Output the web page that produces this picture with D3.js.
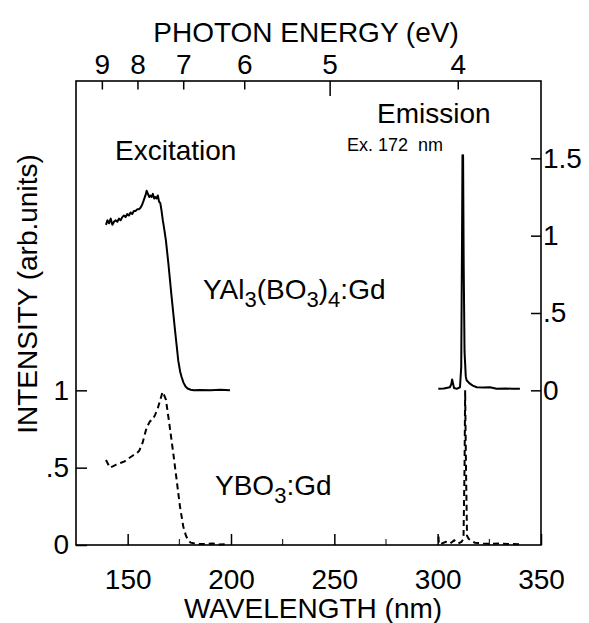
<!DOCTYPE html>
<html lang="en">
<head>
<meta charset="UTF-8">
<title>Gd excitation / emission</title>
<script src="https://cdn.jsdelivr.net/npm/d3@7"></script>
<style>
  * { margin: 0; padding: 0; }
  body { background: #fff; }
  text { font-family: "Liberation Sans", Arial, sans-serif; fill: #000; }
</style>
</head>
<body>
<svg></svg>
<script>
// --- data ---
// wavelength (nm), intensity (arb. units)
const yabExWl  = [139.5,140.2,141.0,141.8,142.6,143.4,144.2,145.0,145.8,146.6,147.4,148.2,149.0,149.8,150.6,151.4,152.2,153.0,153.8,154.6,155.4,156.2,157.0,157.8,158.6,159.2,159.8,160.4,161.0,161.6,162.2,162.8,163.4,164.0,164.6,165.2,165.8,166.4,167.0,167.6,168.5,169.7,171.3,172.9,174.5,175.4,176.1,177.0,178.0,179.0,180.5,182,185,190,195,199.5];
const yabExVal = [1.07,1.10,1.08,1.11,1.07,1.09,1.10,1.09,1.11,1.10,1.12,1.13,1.12,1.14,1.13,1.15,1.14,1.16,1.16,1.17,1.17,1.18,1.20,1.23,1.26,1.29,1.27,1.25,1.26,1.25,1.27,1.24,1.25,1.24,1.26,1.22,1.21,1.16,1.10,1.05,0.97,0.82,0.60,0.39,0.19,0.12,0.086,0.05,0.025,0.012,0.004,0,0.002,0,0.003,0];

const yabEmWl  = [300.3,303,305.9,306.6,307.0,307.5,307.9,309.2,310.8,311.4,311.8,312.0,312.3,312.6,313.0,313.6,314.0,315.6,317,318.9,322,325.3,328.5,333,336,339.8];
const yabEmVal = [0.01,0.012,0.02,0.04,0.07,0.04,0.015,0.01,0.02,0.15,1.0,1.52,1.52,0.8,0.25,0.09,0.065,0.043,0.03,0.02,0.018,0.02,0.01,0.012,0.01,0.01];

const ybExWl  = [139.5,141.4,143.0,144.5,146.5,148.5,150.5,152.7,154.2,155.6,157.2,159.2,160.8,162.1,163.2,164.5,165.6,166.9,167.6,168.5,170.1,172.1,173.7,175.3,176.9,178.2,179.3,180.5,182.6,185,188.2,191,194,197.1];
const ybExVal = [0.55,0.50,0.51,0.52,0.53,0.54,0.56,0.58,0.59,0.61,0.66,0.76,0.80,0.81,0.84,0.88,0.93,0.99,0.97,0.94,0.79,0.59,0.42,0.25,0.12,0.06,0.03,0.015,0.01,0.006,0.006,0.01,0.004,0.005];

const ybEmWl  = [300.4,300.6,302,304,306,308,310,311.5,312.5,313.0,313.3,313.7,314.2,315,316,318,322,326,330,335,339.8];
const ybEmVal = [0.055,0.005,0.01,0.02,0.01,0.03,0.01,0.02,0.04,0.5,1.0,0.5,0.06,0.04,0.03,0.015,0.01,0.008,0.01,0.006,0.005];

// tick labels
const wlTicks = [150, 200, 250, 300, 350];
const wlMinor = [175, 225, 275, 325];
const eTicks = [9, 8, 7, 6, 5, 4];
const leftTicks = [0, 0.5, 1];
const rightTicks = [0, 0.5, 1, 1.5];

const W = 589, H = 623;
const svg = d3.select('svg').attr('width', W).attr('height', H);

// scales
const x = d3.scaleLinear().domain([125, 350]).range([76, 541]);
const yL = d3.scaleLinear().domain([0, 3]).range([545, 81]);
const yR = d3.scaleLinear().domain([-1, 2]).range([545, 81]);
const fmt = d => d === 0 ? '0' : d3.format('.1~f')(d).replace(/^0\./, '.');

// frame
svg.append('rect')
  .attr('x', x(125)).attr('y', yL(3))
  .attr('width', x(350) - x(125)).attr('height', yL(0) - yL(3))
  .attr('fill', 'none').attr('stroke', '#000').attr('stroke-width', 1.6);

// bottom axis (ticks inside)
const gB = svg.append('g').attr('transform', `translate(0,${yL(0)})`)
  .call(d3.axisBottom(x).tickValues(wlTicks).tickSize(-11).tickPadding(24).tickFormat(d3.format('d')));
gB.append('g').selectAll('line').data(wlMinor).join('line')
  .attr('x1', d => x(d)).attr('x2', d => x(d)).attr('y1', 0).attr('y2', -6).attr('stroke', '#000');

// top axis: photon energy
const gT = svg.append('g').attr('transform', `translate(0,${yL(3)})`);
gT.selectAll('line').data(eTicks).join('line')
  .attr('x1', d => x(1239.84 / d)).attr('x2', d => x(1239.84 / d))
  .attr('y1', 0).attr('y2', d => d === 5 ? 15 : 8.5)
  .attr('stroke', '#000').attr('stroke-width', 1.5);
gT.selectAll('text').data(eTicks).join('text')
  .attr('x', d => x(1239.84 / d)).attr('y', -7)
  .attr('text-anchor', 'middle').attr('font-size', 28).text(d => d);

// left axis
const gL = svg.append('g').attr('transform', `translate(${x(125)},0)`)
  .call(d3.axisLeft(yL).tickValues(leftTicks).tickSize(-11).tickPadding(7).tickFormat(fmt));

// right axis
const gR = svg.append('g').attr('transform', `translate(${x(350)},0)`)
  .call(d3.axisRight(yR).tickValues(rightTicks).tickSize(-10).tickPadding(5).tickFormat(fmt));

[gB, gL, gR].forEach(g => {
  g.select('.domain').remove();
  g.selectAll('.tick line').attr('stroke', '#000').attr('stroke-width', 1.5);
  g.selectAll('.tick text').attr('font-size', 28).attr('fill', '#000')
    .attr('font-family', '"Liberation Sans", Arial, sans-serif');
});
gR.selectAll('.tick text').attr('dx', -3);

// curves
const lineL = d3.line().x(d => x(d[0])).y(d => yL(d[1]));
const lineR = d3.line().x(d => x(d[0])).y(d => yR(d[1]));
const zip = (a, b) => a.map((v, i) => [v, b[i]]);

svg.append('path').datum(zip(ybExWl, ybExVal)).attr('d', lineL)
  .attr('fill', 'none').attr('stroke', '#000').attr('stroke-width', 2).attr('stroke-dasharray', '6,4');
svg.append('path').datum(zip(ybEmWl, ybEmVal)).attr('d', lineL)
  .attr('fill', 'none').attr('stroke', '#000').attr('stroke-width', 2).attr('stroke-dasharray', '6,4');
svg.append('path').datum(zip(yabExWl, yabExVal)).attr('d', lineR)
  .attr('fill', 'none').attr('stroke', '#000').attr('stroke-width', 2).attr('stroke-linejoin', 'round');
svg.append('path').datum(zip(yabEmWl, yabEmVal)).attr('d', lineR)
  .attr('fill', 'none').attr('stroke', '#000').attr('stroke-width', 2).attr('stroke-linejoin', 'round');

// titles and labels
svg.append('text').attr('x', 306).attr('y', 42).attr('text-anchor', 'middle')
  .attr('font-size', 28).text('PHOTON ENERGY (eV)');
svg.append('text').attr('x', 313).attr('y', 618).attr('text-anchor', 'middle')
  .attr('font-size', 28).text('WAVELENGTH (nm)');
svg.append('text').attr('transform', 'translate(37,294) rotate(-90)').attr('text-anchor', 'middle')
  .attr('font-size', 28).text('INTENSITY (arb.units)');

svg.append('text').attr('x', 115).attr('y', 160).attr('font-size', 28).text('Excitation');
svg.append('text').attr('x', 377).attr('y', 123).attr('font-size', 28).text('Emission');
svg.append('text').attr('x', 347).attr('y', 151).attr('font-size', 18).attr('xml:space', 'preserve').text('Ex. 172  nm');

const t1 = svg.append('text').attr('x', 203).attr('y', 299).attr('font-size', 28);
t1.append('tspan').text('YAl');
t1.append('tspan').attr('dy', 8).attr('font-size', 22).text('3');
t1.append('tspan').attr('dy', -8).text('(BO');
t1.append('tspan').attr('dy', 8).attr('font-size', 22).text('3');
t1.append('tspan').attr('dy', -8).text(')');
t1.append('tspan').attr('dy', 8).attr('font-size', 22).text('4');
t1.append('tspan').attr('dy', -8).text(':Gd');

const t2 = svg.append('text').attr('x', 215).attr('y', 495).attr('font-size', 28);
t2.append('tspan').text('YBO');
t2.append('tspan').attr('dy', 8).attr('font-size', 22).text('3');
t2.append('tspan').attr('dy', -8).text(':Gd');
</script>
</body>
</html>
